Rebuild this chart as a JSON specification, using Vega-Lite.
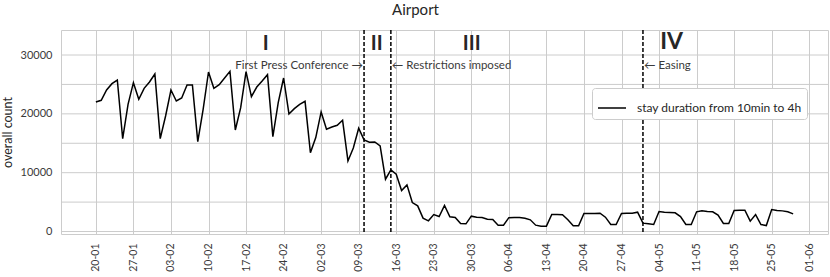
{
  "$schema": "https://vega.github.io/schema/vega-lite/v6.json",
  "width": 767,
  "height": 204,
  "autosize": {"type": "none"},
  "padding": {"left": 61, "top": 30, "right": 2, "bottom": 43},
  "title": {"text": "Airport", "fontSize": 15, "font": "Lato", "fontWeight": 400, "color": "#262626", "anchor": "middle", "offset": 11, "dx": -29},
  "datasets": {
    "main": [
      {"date": "2020-01-20", "count": 22000}, {"date": "2020-01-21", "count": 22300}, {"date": "2020-01-22", "count": 24050}, {"date": "2020-01-23", "count": 25130}, {"date": "2020-01-24", "count": 25750}, {"date": "2020-01-25", "count": 15790}, {"date": "2020-01-26", "count": 21620}, {"date": "2020-01-27", "count": 25300}, {"date": "2020-01-28", "count": 22470}, {"date": "2020-01-29", "count": 24340}, {"date": "2020-01-30", "count": 25410}, {"date": "2020-01-31", "count": 26770},
      {"date": "2020-02-01", "count": 15790}, {"date": "2020-02-02", "count": 19640}, {"date": "2020-02-03", "count": 24050}, {"date": "2020-02-04", "count": 22190}, {"date": "2020-02-05", "count": 22700}, {"date": "2020-02-06", "count": 24900}, {"date": "2020-02-07", "count": 24900}, {"date": "2020-02-08", "count": 15280}, {"date": "2020-02-09", "count": 20770}, {"date": "2020-02-10", "count": 27110}, {"date": "2020-02-11", "count": 24340}, {"date": "2020-02-12", "count": 24960}, {"date": "2020-02-13", "count": 26090}, {"date": "2020-02-14", "count": 27220}, {"date": "2020-02-15", "count": 17260}, {"date": "2020-02-16", "count": 21050}, {"date": "2020-02-17", "count": 27170}, {"date": "2020-02-18", "count": 22920}, {"date": "2020-02-19", "count": 24560}, {"date": "2020-02-20", "count": 25580}, {"date": "2020-02-21", "count": 26660}, {"date": "2020-02-22", "count": 16130}, {"date": "2020-02-23", "count": 21900}, {"date": "2020-02-24", "count": 26090}, {"date": "2020-02-25", "count": 19980}, {"date": "2020-02-26", "count": 20890}, {"date": "2020-02-27", "count": 21620}, {"date": "2020-02-28", "count": 22130}, {"date": "2020-02-29", "count": 13410},
      {"date": "2020-03-01", "count": 15960}, {"date": "2020-03-02", "count": 20320}, {"date": "2020-03-03", "count": 17380}, {"date": "2020-03-04", "count": 17770}, {"date": "2020-03-05", "count": 18050}, {"date": "2020-03-06", "count": 18900}, {"date": "2020-03-07", "count": 12000}, {"date": "2020-03-08", "count": 14200}, {"date": "2020-03-09", "count": 17550}, {"date": "2020-03-10", "count": 15570}, {"date": "2020-03-11", "count": 15180}, {"date": "2020-03-12", "count": 15230}, {"date": "2020-03-13", "count": 14550}, {"date": "2020-03-14", "count": 8890}, {"date": "2020-03-15", "count": 10470}, {"date": "2020-03-16", "count": 9740}, {"date": "2020-03-17", "count": 6970}, {"date": "2020-03-18", "count": 7930}, {"date": "2020-03-19", "count": 4930}, {"date": "2020-03-20", "count": 4360}, {"date": "2020-03-21", "count": 2270}, {"date": "2020-03-22", "count": 1820}, {"date": "2020-03-23", "count": 2890}, {"date": "2020-03-24", "count": 2550}, {"date": "2020-03-25", "count": 4420}, {"date": "2020-03-26", "count": 2500}, {"date": "2020-03-27", "count": 2380}, {"date": "2020-03-28", "count": 1360}, {"date": "2020-03-29", "count": 1310}, {"date": "2020-03-30", "count": 2610}, {"date": "2020-03-31", "count": 2440},
      {"date": "2020-04-01", "count": 2380}, {"date": "2020-04-02", "count": 2100}, {"date": "2020-04-03", "count": 2040}, {"date": "2020-04-04", "count": 1080}, {"date": "2020-04-05", "count": 1080}, {"date": "2020-04-06", "count": 2360}, {"date": "2020-04-07", "count": 2400}, {"date": "2020-04-08", "count": 2380}, {"date": "2020-04-09", "count": 2270}, {"date": "2020-04-10", "count": 1990}, {"date": "2020-04-11", "count": 1080}, {"date": "2020-04-12", "count": 910}, {"date": "2020-04-13", "count": 910}, {"date": "2020-04-14", "count": 2890}, {"date": "2020-04-15", "count": 2890}, {"date": "2020-04-16", "count": 2840}, {"date": "2020-04-17", "count": 1990}, {"date": "2020-04-18", "count": 970}, {"date": "2020-04-19", "count": 970}, {"date": "2020-04-20", "count": 3060}, {"date": "2020-04-21", "count": 3060}, {"date": "2020-04-22", "count": 3060}, {"date": "2020-04-23", "count": 3120}, {"date": "2020-04-24", "count": 2440}, {"date": "2020-04-25", "count": 1190}, {"date": "2020-04-26", "count": 1190}, {"date": "2020-04-27", "count": 3060}, {"date": "2020-04-28", "count": 3120}, {"date": "2020-04-29", "count": 3120}, {"date": "2020-04-30", "count": 3290},
      {"date": "2020-05-01", "count": 1420}, {"date": "2020-05-02", "count": 1310}, {"date": "2020-05-03", "count": 1190}, {"date": "2020-05-04", "count": 3400}, {"date": "2020-05-05", "count": 3290}, {"date": "2020-05-06", "count": 3230}, {"date": "2020-05-07", "count": 3180}, {"date": "2020-05-08", "count": 2550}, {"date": "2020-05-09", "count": 1190}, {"date": "2020-05-10", "count": 1190}, {"date": "2020-05-11", "count": 3350}, {"date": "2020-05-12", "count": 3510}, {"date": "2020-05-13", "count": 3400}, {"date": "2020-05-14", "count": 3350}, {"date": "2020-05-15", "count": 2780}, {"date": "2020-05-16", "count": 1360}, {"date": "2020-05-17", "count": 1360}, {"date": "2020-05-18", "count": 3570}, {"date": "2020-05-19", "count": 3630}, {"date": "2020-05-20", "count": 3630}, {"date": "2020-05-21", "count": 1760}, {"date": "2020-05-22", "count": 2890}, {"date": "2020-05-23", "count": 1190}, {"date": "2020-05-24", "count": 1020}, {"date": "2020-05-25", "count": 3740}, {"date": "2020-05-26", "count": 3570}, {"date": "2020-05-27", "count": 3510}, {"date": "2020-05-28", "count": 3350}, {"date": "2020-05-29", "count": 3000}
    ],
    "ygrid": [
      {"count": 0}, {"count": 5000}, {"count": 10000}, {"count": 15000}, {"count": 20000}, {"count": 25000}, {"count": 30000}
    ],
    "events": [
      {"date": "2020-03-10"}, {"date": "2020-03-15"}, {"date": "2020-05-01"}
    ],
    "notesRight": [
      {"date": "2020-03-10", "count": 28180, "label": "First Press Conference →"}
    ],
    "notesLeft": [
      {"date": "2020-03-15", "count": 28180, "label": "← Restrictions imposed"},
      {"date": "2020-05-01", "count": 28180, "label": "← Easing"}
    ],
    "phases": [
      {"date": "2020-02-20T16:00:00Z", "count": 31870, "label": "I"},
      {"date": "2020-03-12T09:00:00Z", "count": 31870, "label": "II"},
      {"date": "2020-03-30T02:00:00Z", "count": 31870, "label": "III"}
    ],
    "phase4": [
      {"date": "2020-05-06T08:00:00Z", "count": 32150, "label": "IV"}
    ]
  },
  "layer": [
    {
      "data": {"name": "ygrid"},
      "mark": {"type": "rule", "color": "#cccccc", "strokeWidth": 1},
      "encoding": {
        "y": {"field": "count", "type": "quantitative"}
      }
    },
    {
      "data": {"name": "main"},
      "mark": {"type": "line", "strokeWidth": 1.5, "interpolate": "linear"},
      "encoding": {
        "x": {
          "field": "date", "type": "temporal",
          "scale": {"type": "utc", "domain": [{"year": 2020, "month": 1, "date": 13, "hours": 12, "utc": true}, {"year": 2020, "month": 6, "date": 4, "hours": 12, "utc": true}]},
          "axis": {
            "title": null, "format": "%d-%m", "labelAngle": -90, "labelFontSize": 10.5, "labelPadding": 9, "grid": true,
            "values": [1579478400000, 1580083200000, 1580688000000, 1581292800000, 1581897600000, 1582502400000, 1583107200000, 1583712000000, 1584316800000, 1584921600000, 1585526400000, 1586131200000, 1586736000000, 1587340800000, 1587945600000, 1588550400000, 1589155200000, 1589760000000, 1590364800000, 1590969600000]
          }
        },
        "y": {
          "field": "count", "type": "quantitative",
          "scale": {"domain": [-420, 34250], "nice": false, "zero": false},
          "axis": {"title": "overall count", "grid": false, "titleFontSize": 12.5, "titlePadding": 6, "labelFontSize": 11, "labelPadding": 9, "values": [0, 5000, 10000, 15000, 20000, 25000, 30000], "format": "d"}
        },
        "color": {
          "datum": "stay duration from 10min to 4h",
          "scale": {"range": ["#000000"]},
          "legend": {
            "orient": "none", "legendX": 531, "legendY": 58, "title": null,
            "symbolType": "stroke", "symbolSize": 784, "symbolStrokeWidth": 1.5,
            "labelFontSize": 12, "labelFont": "Lato", "labelColor": "#262626", "labelLimit": 400,
            "padding": 5, "strokeColor": "#cccccc", "fillColor": "#ffffff", "cornerRadius": 3, "labelOffset": 10
          }
        }
      }
    },
    {
      "data": {"name": "events"},
      "mark": {"type": "rule", "color": "#000000", "strokeWidth": 1.5, "strokeDash": [4, 2]},
      "encoding": {
        "x": {"field": "date", "type": "temporal"}
      }
    },
    {
      "data": {"name": "notesRight"},
      "mark": {"type": "text", "align": "right", "baseline": "middle", "dx": -1, "fontSize": 11.5, "font": "Lato", "color": "#3a3a3a"},
      "encoding": {
        "x": {"field": "date", "type": "temporal"},
        "y": {"field": "count", "type": "quantitative"},
        "text": {"field": "label"}
      }
    },
    {
      "data": {"name": "notesLeft"},
      "mark": {"type": "text", "align": "left", "baseline": "middle", "dx": 1, "fontSize": 11.5, "font": "Lato", "color": "#3a3a3a"},
      "encoding": {
        "x": {"field": "date", "type": "temporal"},
        "y": {"field": "count", "type": "quantitative"},
        "text": {"field": "label"}
      }
    },
    {
      "data": {"name": "phases"},
      "mark": {"type": "text", "align": "center", "baseline": "middle", "fontSize": 20, "fontWeight": "bold", "font": "Lato", "color": "#262626"},
      "encoding": {
        "x": {"field": "date", "type": "temporal"},
        "y": {"field": "count", "type": "quantitative"},
        "text": {"field": "label"}
      }
    },
    {
      "data": {"name": "phase4"},
      "mark": {"type": "text", "align": "center", "baseline": "middle", "fontSize": 23, "fontWeight": "bold", "font": "Lato", "color": "#262626"},
      "encoding": {
        "x": {"field": "date", "type": "temporal"},
        "y": {"field": "count", "type": "quantitative"},
        "text": {"field": "label"}
      }
    }
  ],
  "config": {
    "font": "Lato",
    "view": {"stroke": "#cccccc", "strokeWidth": 1},
    "axis": {"gridColor": "#cccccc", "gridWidth": 1, "domain": false, "ticks": false, "labelColor": "#3a3a3a", "titleColor": "#262626", "labelFont": "Lato", "titleFont": "Lato", "titleFontWeight": "normal"}
  }
}
